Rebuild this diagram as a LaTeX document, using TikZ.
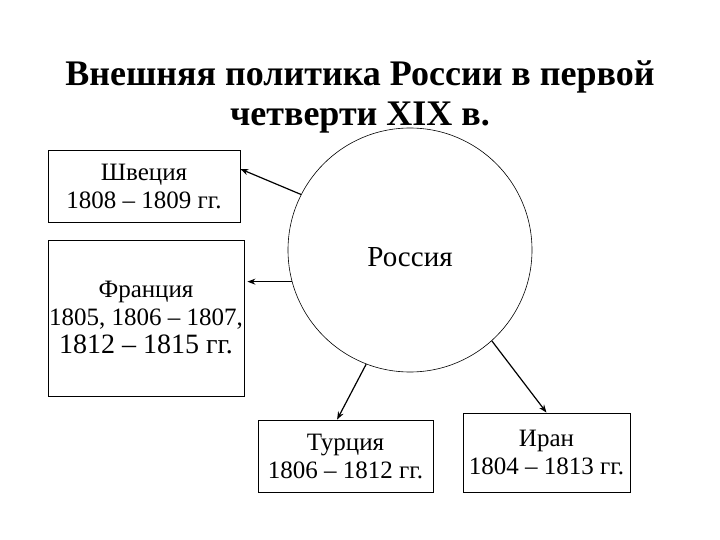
\documentclass[tikz,border=0pt]{standalone}
\usepackage{fontspec}
\setmainfont{Liberation Serif}
\usetikzlibrary{
    arrows.meta,
    positioning,
    calc
}
\tikzset{
    % --- Country block (rectangle with name and years) ---
    country box/.style = {
        rectangle, draw, line width=0.8pt,
        font=\fontsize{25}{28}\selectfont, align=center,
        inner sep=0pt
    },
    % --- Central state circle ---
    state circle/.style = {
        circle, draw, line width=0.6pt,
        minimum size=244pt, inner sep=0pt
    },
    % --- Title text ---
    title/.style = {
        font=\fontsize{36}{40}\selectfont\bfseries, align=center
    },
    % --- War arrow (from Russia to a country) ---
    war arrow/.style = {
        -{Stealth[length=8pt, width=6pt]}, line width=1.2pt
    }
}

\begin{document}
\begin{tikzpicture}[x=1pt, y=-1pt]

\useasboundingbox (0,0) rectangle (720,540);

% ---------------------------------------------------------
% Title
% ---------------------------------------------------------
\node[title] (Title) at (360, 97)
    {Внешняя политика России в первой\\четверти XIX в.};

% ---------------------------------------------------------
% Russia (centre)
% ---------------------------------------------------------
\node[state circle, label={[yshift=-7pt, font=\fontsize{29}{32}\selectfont]center:Россия}]
    (Russia) at (410, 250) {};

% ---------------------------------------------------------
% Countries
% ---------------------------------------------------------
\node[country box, minimum width=192pt, minimum height=72pt] (Box_Swe) at (144, 186)
    {Швеция\\1808 – 1809 гг.};
\node[country box, minimum width=196pt, minimum height=156pt] (Box_Fra) at (146, 318)
    {Франция\\1805, 1806 – 1807,\\{\fontsize{28}{29}\selectfont 1812 – 1815 гг.}};
\node[country box, minimum width=175pt, minimum height=72pt] (Box_Tur) at (345.5, 456)
    {Турция\\1806 – 1812 гг.};
\node[country box, minimum width=167pt, minimum height=79pt] (Box_Ira) at (546.5, 452.5)
    {Иран\\1804 – 1813 гг.};

% ---------------------------------------------------------
% Arrows
% ---------------------------------------------------------
\draw[war arrow] (Russia.153) -- (Box_Swe.10);
\draw[war arrow, shorten >=3pt] (Russia.195) -- (Box_Fra.east |- Russia.195);
\draw[war arrow] (Russia.249) -- (Box_Tur.103);
\draw[war arrow] (Russia.312) -- (Box_Ira.north);

\end{tikzpicture}
\end{document}
